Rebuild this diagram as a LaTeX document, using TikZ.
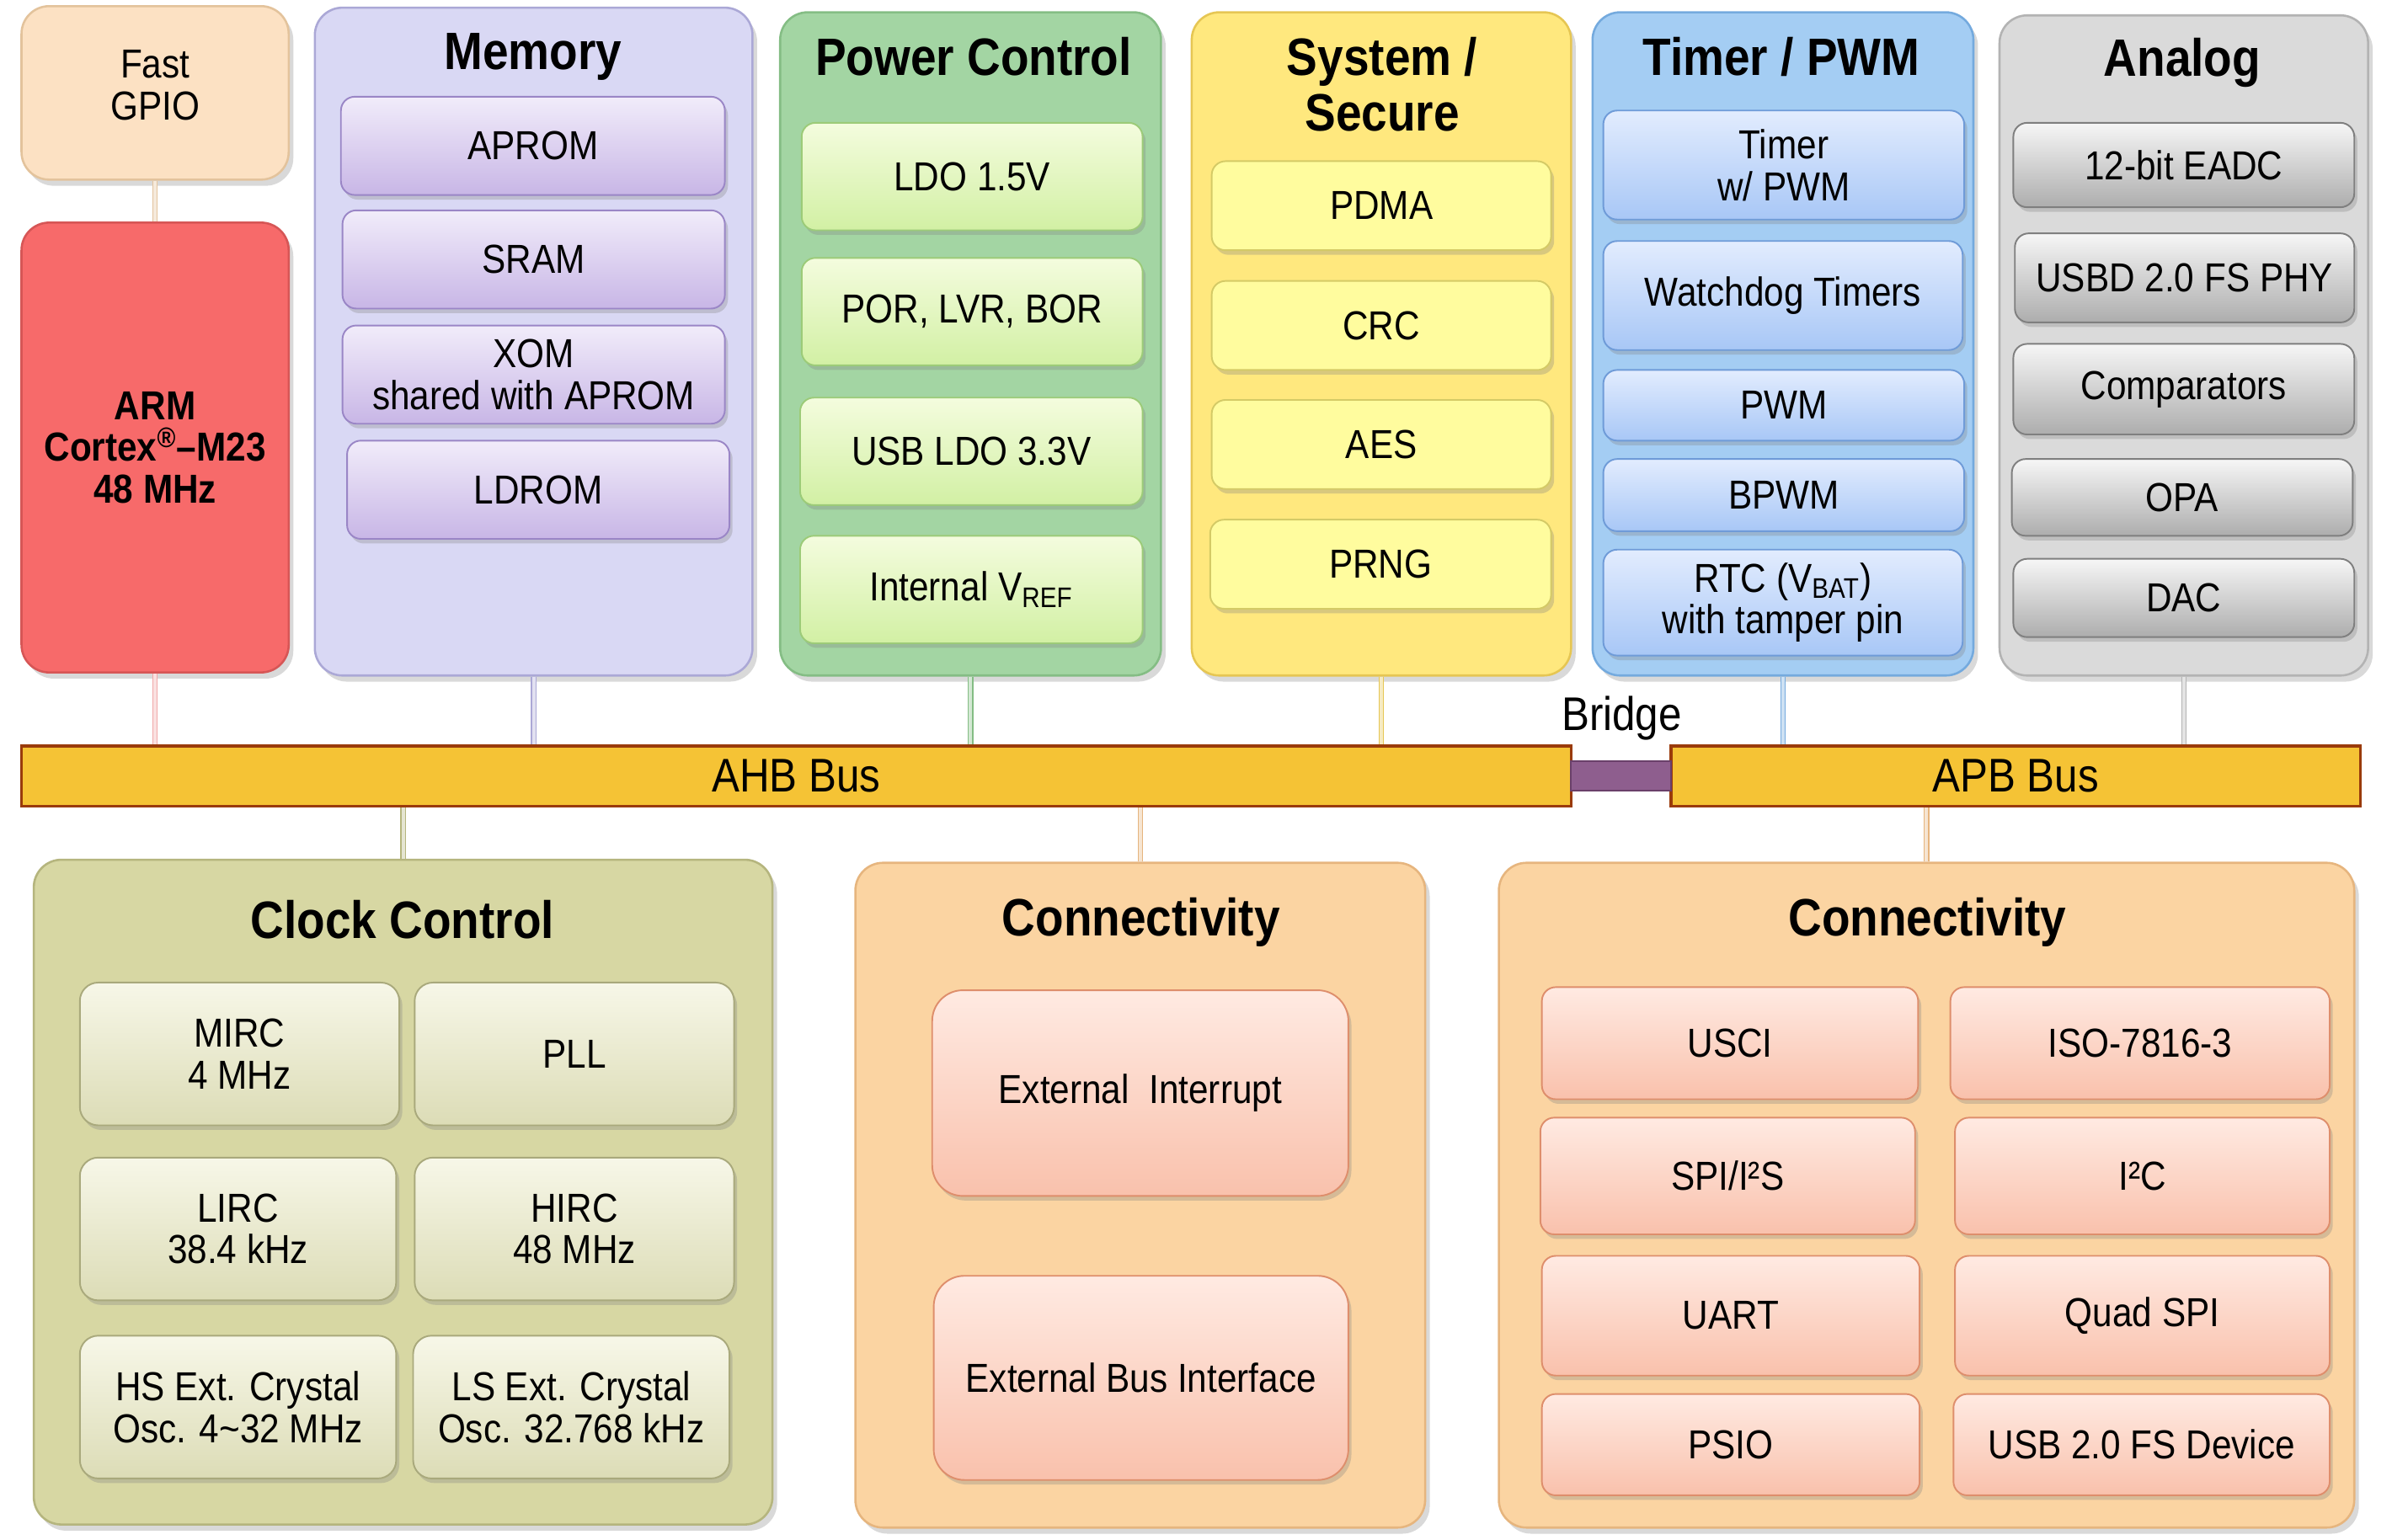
\documentclass[tikz,border=0pt]{standalone}
\usepackage{fontspec}
\setmainfont{Liberation Sans}[FakeStretch=0.88]
\usetikzlibrary{shadows}

\definecolor{gpioFill}{HTML}{FCE1C3}
\definecolor{gpioLine}{HTML}{E3C39C}
\definecolor{armFill}{HTML}{F76A6A}
\definecolor{armLine}{HTML}{D65656}
\definecolor{armLink}{HTML}{F0A8A8}
\definecolor{memFill}{HTML}{D9D8F4}
\definecolor{memLine}{HTML}{ABA8D6}
\definecolor{memTop}{HTML}{F1ECFA}
\definecolor{memBot}{HTML}{C8B6E6}
\definecolor{memEdge}{HTML}{9A86C6}
\definecolor{pwrFill}{HTML}{A3D5A3}
\definecolor{pwrLine}{HTML}{84BD84}
\definecolor{pwrTop}{HTML}{F4FCDE}
\definecolor{pwrBot}{HTML}{D2F0A4}
\definecolor{pwrEdge}{HTML}{9CCB78}
\definecolor{sysFill}{HTML}{FFE87E}
\definecolor{sysLine}{HTML}{E6C653}
\definecolor{sysUnit}{HTML}{FFFC9E}
\definecolor{sysEdge}{HTML}{D4CA66}
\definecolor{tmrFill}{HTML}{A4CDF3}
\definecolor{tmrLine}{HTML}{74AADE}
\definecolor{tmrTop}{HTML}{E2ECFE}
\definecolor{tmrBot}{HTML}{A8C7F6}
\definecolor{tmrEdge}{HTML}{6F9BD8}
\definecolor{anaFill}{HTML}{DADADA}
\definecolor{anaLine}{HTML}{B3B3B3}
\definecolor{anaTop}{HTML}{F6F6F6}
\definecolor{anaBot}{HTML}{ADADAD}
\definecolor{anaEdge}{HTML}{7F7F7F}
\definecolor{clkFill}{HTML}{D7D7A3}
\definecolor{clkLine}{HTML}{B5B57E}
\definecolor{clkTop}{HTML}{F7F7E8}
\definecolor{clkBot}{HTML}{DCDCB6}
\definecolor{clkEdge}{HTML}{A9A97C}
\definecolor{conFill}{HTML}{FBD4A2}
\definecolor{conLine}{HTML}{E6B57E}
\definecolor{conTop}{HTML}{FFEAE2}
\definecolor{conBot}{HTML}{F9C1AC}
\definecolor{conEdge}{HTML}{DE8E6C}
\definecolor{busFill}{HTML}{F5C335}
\definecolor{busLine}{HTML}{9A3B0B}
\definecolor{bridgeFill}{HTML}{8E5E8E}
\definecolor{bridgeLine}{HTML}{6A406A}

\newcommand{\blockfont}{\fontsize{15}{15.5}\selectfont}
\newcommand{\busfont}{\fontsize{17.5}{18}\selectfont}
\newcommand{\grouptitlefont}{\fontsize{19.5}{20.5}\selectfont\bfseries}

\begin{document}
\begin{tikzpicture}[x=0.2mm, y=-0.2mm,
    wh/.style 2 args={minimum width=#1*0.2mm, minimum height=#2*0.2mm},
    group/.style={rounded corners=3.6mm, line width=0.8pt, inner sep=0pt,
        drop shadow={shadow xshift=0.6mm, shadow yshift=-0.8mm, opacity=0.3}},
    unit/.style={rounded corners=1.8mm, line width=0.6pt, inner sep=0pt, align=center, font=\blockfont,
        drop shadow={shadow xshift=0.4mm, shadow yshift=-0.6mm, opacity=0.3}},
    grouptitle/.style={font=\grouptitlefont, align=center},
    memunit/.style={unit, top color=memTop, bottom color=memBot, draw=memEdge},
    pwrunit/.style={unit, top color=pwrTop, bottom color=pwrBot, draw=pwrEdge},
    sysunit/.style={unit, fill=sysUnit, draw=sysEdge},
    tmrunit/.style={unit, top color=tmrTop, bottom color=tmrBot, draw=tmrEdge},
    anaunit/.style={unit, top color=anaTop, bottom color=anaBot, draw=anaEdge},
    clkunit/.style={unit, rounded corners=2.4mm, top color=clkTop, bottom color=clkBot, draw=clkEdge},
    conunit/.style={unit, top color=conTop, bottom color=conBot, draw=conEdge},
    bus/.style={fill=busFill, draw=busLine, line width=1.1pt, font=\busfont, inner sep=0pt},
    link/.style={draw=#1, double=#1!35!white, double distance=1.3pt, line width=0.35pt}
]
\useasboundingbox (0,0) rectangle (1568,1003);

% top row
\node[group, fill=gpioFill, draw=gpioLine, wh={174}{113}, align=center, font=\blockfont, text depth=6pt] (gpio) at (101,60.5) {Fast\\GPIO};
\node[group, fill=armFill, draw=armLine, wh={174}{293}, align=center, font=\blockfont\bfseries] (arm) at (101,291.5) {ARM\\Cortex\textsuperscript{®}–M23\\48 MHz};

\node[group, fill=memFill, draw=memLine, wh={285}{435}] (mem) at (347.5,222.5) {};
\node[grouptitle] (memtitle) at (347,37) {Memory};
\node[memunit, wh={250}{64}] (aprom) at (347,95) {APROM};
\node[memunit, wh={249}{64}] (sram) at (347.5,169) {SRAM};
\node[memunit, wh={249}{64}] (xom) at (347.5,244) {XOM\\shared with APROM};
\node[memunit, wh={249}{64}] (ldrom) at (350.5,319) {LDROM};

\node[group, fill=pwrFill, draw=pwrLine, wh={248}{432}] (pwr) at (632,224) {};
\node[grouptitle] (pwrtitle) at (634,37) {Power Control};
\node[pwrunit, wh={222}{70}] (ldo) at (633,115) {LDO 1.5V};
\node[pwrunit, wh={222}{70}] (por) at (633,203) {POR, LVR, BOR};
\node[pwrunit, wh={223}{70}] (usbldo) at (632.5,294) {USB LDO 3.3V};
\node[pwrunit, wh={223}{70}] (vref) at (632.5,384) {Internal V\textsubscript{REF}};

\node[group, fill=sysFill, draw=sysLine, wh={247}{432}] (sys) at (899.5,224) {};
\node[grouptitle] (systitle) at (900,55) {System /\\Secure};
\node[sysunit, wh={221}{58}] (pdma) at (899.5,134) {PDMA};
\node[sysunit, wh={221}{58}] (crc) at (899.5,212) {CRC};
\node[sysunit, wh={221}{58}] (aes) at (899.5,289.5) {AES};
\node[sysunit, wh={222}{58}] (prng) at (899,367.5) {PRNG};

\node[group, fill=tmrFill, draw=tmrLine, wh={248}{432}] (tmr) at (1161,224) {};
\node[grouptitle] (tmrtitle) at (1160,37) {Timer / PWM};
\node[tmrunit, wh={235}{71}] (timer) at (1161.5,107.5) {Timer\\w/ PWM};
\node[tmrunit, wh={234}{71}] (wdt) at (1161,192.5) {Watchdog Timers};
\node[tmrunit, wh={235}{46}] (pwm) at (1161.5,264) {PWM};
\node[tmrunit, wh={235}{47}] (bpwm) at (1161.5,322.5) {BPWM};
\node[tmrunit, wh={234}{69}] (rtc) at (1161,392.5) {RTC (V\textsubscript{BAT})\\with tamper pin};

\node[group, fill=anaFill, draw=anaLine, wh={240}{430}] (ana) at (1422,225) {};
\node[grouptitle] (anatitle) at (1421,41) {Analog};
\node[anaunit, wh={222}{55}] (eadc) at (1422,107.5) {12-bit EADC};
\node[anaunit, wh={221}{58}] (phy) at (1422.5,181) {USBD 2.0 FS PHY};
\node[anaunit, wh={222}{59}] (cmp) at (1422,253.5) {Comparators};
\node[anaunit, wh={222}{50}] (opa) at (1421,324) {OPA};
\node[anaunit, wh={222}{51}] (dac) at (1422,389.5) {DAC};

% buses
\node[bus, wh={1009}{39}] (ahb) at (518.5,505.5) {AHB Bus};
\node[bus, wh={449}{39}] (apb) at (1312.5,505.5) {APB Bus};
\node[fill=bridgeFill, draw=bridgeLine, line width=0.6pt, inner sep=0pt, wh={65}{19}] (bridge) at (1055.5,505.5) {};
\node[font=\busfont] (bridgelabel) at (1056,468) {Bridge};

% bottom row
\node[group, fill=clkFill, draw=clkLine, wh={481}{433}] (clk) at (262.5,776.5) {};
\node[grouptitle] (clktitle) at (262,599) {Clock Control};
\node[clkunit, wh={208}{93}] (mirc) at (156,686.5) {MIRC\\4 MHz};
\node[clkunit, wh={208}{93}] (pll) at (374,686.5) {PLL};
\node[clkunit, wh={206}{93}] (lirc) at (155,800.5) {LIRC\\38.4 kHz};
\node[clkunit, wh={208}{93}] (hirc) at (374,800.5) {HIRC\\48 MHz};
\node[clkunit, wh={206}{93}] (hxt) at (155,916.5) {HS Ext. Crystal\\Osc. 4\textasciitilde 32 MHz};
\node[clkunit, wh={206}{93}] (lxt) at (372,916.5) {LS Ext. Crystal\\Osc. 32.768 kHz};

\node[group, fill=conFill, draw=conLine, wh={371}{433}] (conA) at (742.5,778.5) {};
\node[grouptitle] (conAtitle) at (743,601) {Connectivity};
\node[conunit, rounded corners=4mm, wh={271}{134}] (exti) at (742.5,712) {External~~Interrupt};
\node[conunit, rounded corners=4mm, wh={270}{133}] (ebi) at (743,897.5) {External Bus Interface};

\node[group, fill=conFill, draw=conLine, wh={557}{433}] (conB) at (1254.5,778.5) {};
\node[grouptitle] (conBtitle) at (1255,601) {Connectivity};
\node[conunit, wh={245}{73}] (usci) at (1126.5,679.5) {USCI};
\node[conunit, wh={247}{73}] (iso) at (1393.5,679.5) {ISO-7816-3};
\node[conunit, wh={244}{76}] (spi) at (1125,766) {SPI/I²S};
\node[conunit, wh={244}{76}] (i2c) at (1395,766) {I²C};
\node[conunit, wh={246}{78}] (uart) at (1127,857) {UART};
\node[conunit, wh={244}{78}] (qspi) at (1395,857) {Quad SPI};
\node[conunit, wh={246}{66}] (psio) at (1127,941) {PSIO};
\node[conunit, wh={245}{66}] (usbd) at (1394.5,941) {USB 2.0 FS Device};

% connections to the buses
\draw[link=gpioLine] (gpio) -- (arm);
\draw[link=armLink] (arm) -- (arm |- ahb.north);
\draw[link=memLine] (mem) -- (mem |- ahb.north);
\draw[link=pwrLine] (pwr) -- (pwr |- ahb.north);
\draw[link=sysLine] (sys) -- (sys |- ahb.north);
\draw[link=tmrLine] (tmr) -- (tmr |- apb.north);
\draw[link=anaLine] (ana) -- (ana |- apb.north);
\draw[link=clkLine] (ahb.south -| clk) -- (clk);
\draw[link=conLine] (ahb.south -| conA) -- (conA);
\draw[link=conLine] (apb.south -| conB) -- (conB);
\end{tikzpicture}
\end{document}
